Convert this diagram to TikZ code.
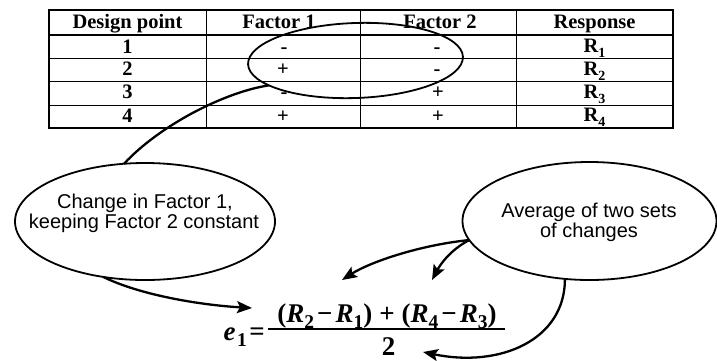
\documentclass[tikz,border=0pt]{standalone}
\usepackage{fontspec}
\setmainfont{Liberation Serif}
\newfontfamily\sansf{Liberation Sans}
\usetikzlibrary{shapes.geometric,arrows.meta}
\newcommand{\tsub}[1]{\raisebox{-0.25em}{\fontsize{14}{14}\selectfont #1}}
\newcommand{\msub}[1]{\raisebox{-0.25em}{\fontsize{19.5}{19.5}\selectfont #1}}
\newcommand{\mminus}{\kern3pt\char"2212\kern3pt}
\begin{document}
\begin{tikzpicture}[x=1pt,y=-1pt,
  cell/.style={font=\fontsize{20.5}{20.5}\selectfont\bfseries, anchor=base, inner sep=0},
  bubble/.style={draw, ellipse, line width=1.8pt, inner sep=0, outer sep=0},
  btext/.style={font=\sansf\fontsize{20}{20}\selectfont, anchor=base, inner sep=0},
  conn/.style={line width=2.3pt},
  arr/.style={conn, -{Stealth[length=15pt,width=12pt,inset=3pt]}},
  eq/.style={font=\fontsize{27}{27}\selectfont\bfseries, inner sep=0, anchor=base}]
\useasboundingbox (0,0) rectangle (717,360);

% table grid
\draw[line width=1.2pt] (49,35) -- (673,35);
\foreach \y in {58,81,105} \draw[line width=1pt] (49,\y) -- (673,\y);
\foreach \x in {206,360,516} \draw[line width=1pt] (\x,10) -- (\x,128);
\draw[line width=2.6pt] (49,10) rectangle (673,128);

% header
\node[cell] (h1) at (127.5,28) {Design point};
\node[cell] (h2) at (279,28) {Factor 1};
\node[cell] (h3) at (440,28) {Factor 2};
\node[cell] (h4) at (594.5,28) {Response};
% rows
\node[cell] (a1) at (127.5,53) {1};
\node[cell] (a2) at (127.5,75) {2};
\node[cell] (a3) at (127.5,98) {3};
\node[cell] (a4) at (127.5,122) {4};
\node[cell] (b1) at (284,53) {-};
\node[cell] (b2) at (283,75) {+};
\node[cell] (b3) at (284,98) {-};
\node[cell] (b4) at (283,122) {+};
\node[cell] (c1) at (437,53) {-};
\node[cell] (c2) at (437,75) {-};
\node[cell] (c3) at (438,98) {+};
\node[cell] (c4) at (438,122) {+};
\node[cell] (d1) at (594.5,52) {R\tsub{1}};
\node[cell] (d2) at (594.5,75) {R\tsub{2}};
\node[cell] (d3) at (594.5,98) {R\tsub{3}};
\node[cell] (d4) at (594.5,121) {R\tsub{4}};

% selection ellipse
\node[bubble, minimum width=215pt, minimum height=75pt, rotate=2] (sel) at (355.5,60.5) {};

% bubbles
\node[bubble, minimum width=260pt, minimum height=117pt] (chg) at (145,221.5) {};
\node[btext] (chg1) at (145,208) {Change in Factor 1,};
\node[btext] (chg2) at (144,228) {keeping Factor 2 constant};
\node[bubble, minimum width=254pt, minimum height=118pt] (avg) at (589.5,221) {};
\node[btext] (avg1) at (589,217) {Average of two sets};
\node[btext] (avg2) at (589,237) {of changes};

% formula
\node[eq, anchor=base east] (lhs) at (265,340) {\textit{e}\kern1.5pt\msub{1}\kern2.5pt=};
\node[eq] (num) at (387,322) {(\textit{R}\msub{2}\mminus\textit{R}\msub{1})\kern7pt+\kern7pt(\textit{R}\msub{4}\mminus\textit{R}\msub{3})};
\coordinate (barl) at (268,329);
\coordinate (barr) at (505,329);
\draw[line width=1.4pt] (barl) -- (barr);
\node[eq] (den) at (388.5,355) {2};

% arrow targets
\coordinate (t1) at (252,308);
\coordinate (t2) at (342,280);
\coordinate (t3) at (432,280);
\coordinate (t4) at (423,352);

% connectors
\draw[conn] (sel.194) .. controls (225,92) and (160,125) .. (chg.110);
\draw[arr] (chg.233) .. controls (140,295) and (200,305) .. (t1);
\draw[arr] (avg.189) .. controls (420,245) and (370,262) .. (t2);
\draw[arr] (avg.189) .. controls (450,250) and (440,265) .. (t3);
\draw[arr] (avg.247) .. controls (565,340) and (500,368) .. (t4);
\end{tikzpicture}
\end{document}
